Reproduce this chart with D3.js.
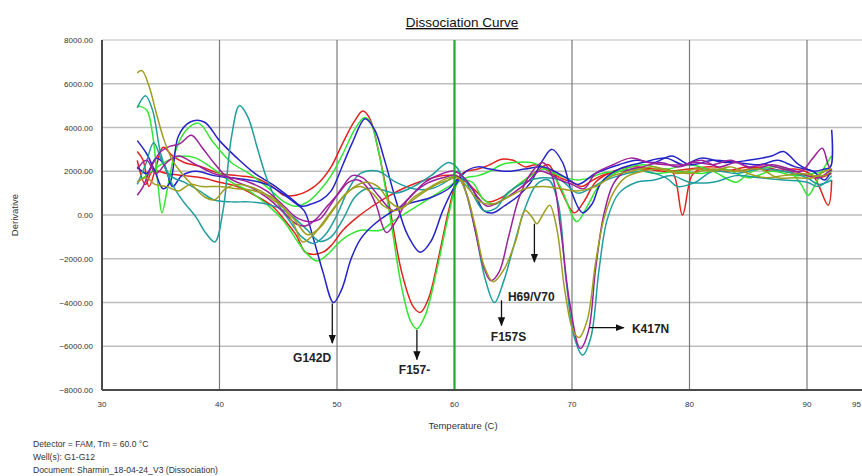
<!DOCTYPE html>
<html>
<head>
<meta charset="utf-8">
<script src="https://cdn.jsdelivr.net/npm/d3@7"></script>
<style>
  html, body { margin: 0; padding: 0; background: #fff; }
  svg { display: block; }
  text { font-family: "Liberation Sans", Arial, sans-serif; }
</style>
</head>
<body>
<svg id="chart" width="862" height="476"></svg>
<script>
// Melt-curve derivative readings, [temperature °C, derivative] for each well
const wellG1 = [[33,2900],[33.5,2500],[34,1300],[34.6,2200],[35.2,3100],[36,2700],[37,2400],[38.5,2200],[40,1900],[41.5,1800],[43,1700],[44.5,1300],[45.5,900],[46.5,900],[47.5,1100],[48.5,1500],[49.5,2200],[50.5,3300],[51.5,4300],[52.2,4750],[52.8,4400],[53.5,3000],[54.5,300],[55.5,-2600],[56.5,-4200],[57.1,-4450],[57.8,-3800],[58.7,-1800],[59.5,200],[60.3,1700],[61,2000],[62,2100],[63,2300],[64,2550],[65,2500],[66,2200],[67,2300],[68,2000],[69,1700],[70,1500],[70.8,1300],[71.5,1500],[72.5,1800],[74,2000],[76,2100],[78,2000],[80,2100],[82,2200],[84,2000],[86,2200],[88,2000],[90,1800],[91,1700],[92.1,1900]];
const wellG2 = [[33,2500],[33.7,1400],[34.3,2000],[35.5,1900],[37,1800],[38.5,1700],[40,1500],[41.5,1300],[43,900],[44.5,400],[45.5,-200],[46.5,-900],[47.3,-1700],[48,-1800],[48.8,-1700],[49.5,-1400],[50.5,-700],[51.5,-200],[53,400],[54.5,900],[56,1300],[57.5,1600],[59,1800],[60,1800],[61,1500],[62,1000],[62.8,600],[64,800],[65.5,1400],[67,2000],[68,2300],[69,1200],[70.2,100],[71,600],[72,1500],[73.5,2000],[75,2200],[77,2100],[78.5,2000],[79.4,0],[80.2,1800],[81,2100],[83,2000],[85,2200],[87,2000],[89,2100],[90.5,1800],[91.8,450],[92.1,1600]];
const wellG3 = [[33,5000],[33.8,4800],[34.3,3700],[34.8,1200],[35.1,100],[35.6,1300],[36.3,3000],[37.2,3900],[38.2,4200],[39.5,3300],[41,2400],[42.5,1900],[44,1300],[45.5,600],[46.5,400],[47.5,600],[48.5,1100],[49.5,1800],[50.5,2800],[51.5,3900],[52.3,4450],[52.8,4300],[53.5,3000],[54.5,0],[55.5,-3300],[56.3,-4900],[56.8,-5200],[57.5,-4600],[58.5,-2500],[59.5,0],[60.3,1500],[61,1700],[62,1800],[63,2000],[64,2300],[65,2400],[66.5,2400],[67.5,2200],[68.5,1900],[69.5,1700],[70.5,1600],[71.5,1700],[72.5,1900],[74,2000],[75.5,2100],[77,1900],[79,2000],[81,1900],[83,2100],[85,1700],[87,2000],[89,1800],[90.5,1900],[91.5,2000],[92.1,2300]];
const wellG4 = [[33,1500],[34,1900],[35,2300],[36,2600],[37,2700],[38,2600],[39.5,2100],[41,1500],[42.5,1100],[44,500],[45.5,-300],[46.5,-1100],[47.5,-1800],[48.3,-2100],[49.2,-1800],[50.5,-1100],[52,-700],[53.7,-700],[55,-200],[56.5,300],[58,800],[59.5,1300],[60.5,1600],[61.5,1500],[62.5,700],[63.5,500],[65,1200],[66.5,1800],[67.8,2100],[69,1300],[70.4,-300],[71.2,300],[72.5,1500],[74,2000],[76,2300],[78,2100],[80,2300],[82,2000],[84,1500],[85,1900],[87,2200],[88.5,2000],[89.5,1400],[90.1,900],[90.8,1500],[91.5,2200],[92.1,2700]];
const wellG5 = [[33,2200],[33.8,1900],[34.6,2600],[35.3,2300],[36,1300],[36.8,1800],[38,2000],[39.5,1800],[41,1700],[42.5,1600],[44,1400],[45.3,1000],[46.3,600],[47.2,200],[48,-1100],[48.8,-2600],[49.7,-4000],[50.4,-3400],[51.2,-2000],[52,-1100],[53,-500],[54.5,100],[56,500],[58,800],[59.5,1200],[60.5,1700],[61.5,1200],[62.5,200],[63.3,100],[64.2,400],[65.5,900],[66.5,1500],[67.5,2500],[68.3,3000],[69.2,2400],[70,1000],[70.9,100],[71.7,500],[72.5,1500],[74,2100],[76,2400],[78,2600],[79.5,2300],[81,2600],[83,2400],[85,2500],[87,2700],[88,2900],[89.3,2300],[90.5,2000],[91.5,2100],[92,2200],[92.1,3900]];
const wellG6 = [[33,3400],[33.8,2800],[34.5,2000],[35.2,1200],[35.8,1500],[36.5,3600],[37.5,4250],[38.7,4250],[40,3400],[41.5,2600],[43,1900],[44.5,1400],[46,800],[47,400],[47.8,500],[48.7,700],[49.5,1100],[50.5,2300],[51.3,3300],[52.4,4400],[53.2,3900],[54,2600],[55,700],[56,-900],[57.1,-1700],[58,-1200],[59,200],[60,1300],[61,2000],[62,2200],[63,2100],[64.5,2000],[66,2100],[67.5,2200],[68.5,2000],[69.5,1700],[70.5,1400],[72,1900],[74,2300],[75.5,2500],[77,2400],[78.5,2700],[80,2300],[82,2500],[84,2400],[86,2300],[87.5,2500],[89,2200],[90.5,2000],[91.5,1600],[92.1,2100]];
const wellG7 = [[33,1400],[33.7,2300],[34.4,3300],[35,2600],[35.8,1800],[37,1500],[38.3,1100],[39.5,700],[41,600],[42.5,600],[44,500],[45.5,200],[46.5,-200],[47.5,-700],[48.5,-1200],[49.5,-1000],[50.5,-200],[51.5,800],[52.5,1200],[53.5,1200],[55,1000],[56.5,1300],[58,1800],[59.5,2400],[60.3,2100],[61,1000],[61.8,-800],[62.6,-2900],[63.4,-4000],[64.2,-3000],[65,-1500],[66,300],[67,1400],[68,1600],[68.8,600],[69.5,-3000],[70.2,-5600],[70.9,-6400],[71.6,-5600],[72.3,-2500],[73,-200],[74,1000],[75.5,1500],[77,1600],[78.5,1800],[80,1500],[82,1500],[84,1800],[86,1700],[88,1600],[90,1500],[91,1300],[92.1,1800]];
const wellG8 = [[33,4900],[33.7,5450],[34.3,4800],[35,2800],[35.8,1600],[36.8,700],[38,-100],[38.8,-800],[39.6,-1230],[40.3,200],[41,3500],[41.7,5000],[42.4,4500],[43.2,3100],[44,1700],[45,500],[46,-300],[47,-1000],[48,-1300],[49,-900],[50,0],[51,1200],[52,1900],[53.5,2000],[55,1500],[56.5,1200],[58,1200],[59.5,1600],[60.3,2000],[61.5,1000],[62.5,200],[63.5,300],[64.5,1000],[66,1500],[67.5,1700],[69,1600],[70.5,1000],[71.5,1200],[72.5,1500],[74,1800],[76,2000],[78,1700],[79,1300],[80.5,1500],[82,2000],[84,1900],[86,2100],[88,2000],[90,1700],[91,1400],[92.1,1600]];
const wellG9 = [[33,900],[33.5,1300],[34.2,2200],[35,2900],[35.8,3150],[36.6,3250],[37.6,3650],[38.5,3100],[39.5,2400],[40.5,1800],[41.5,1500],[42.5,1300],[43.5,1000],[44.5,600],[45.5,100],[46.5,-400],[47.3,-500],[48.2,-200],[49,300],[50,900],[51,1500],[51.8,1600],[52.5,1300],[53.3,500],[54.2,-800],[55,-300],[56,700],[57.5,1400],[59,1700],[60.2,1800],[61,1000],[61.8,-800],[62.5,-2400],[63.1,-3000],[63.8,-2600],[64.6,-1000],[65.5,800],[66.5,1900],[67.5,2400],[68.3,1800],[69,-500],[69.8,-4000],[70.7,-6100],[71.4,-5300],[72,-2500],[72.7,0],[73.5,1400],[74.5,2000],[76,2200],[77.5,2400],[79,2200],[80.5,2400],[82,2300],[83.5,2500],[85,2200],[86.5,2300],[88,2100],[89.5,2000],[90.5,2600],[91.3,3050],[91.8,2300],[92.1,2000]];
const wellG10 = [[33,2100],[33.8,2500],[34.6,1900],[35.5,2400],[36.5,2700],[38,2300],[39.5,1900],[41,1700],[42.5,1500],[44,1100],[45.5,400],[46.5,-100],[47.5,-300],[48.5,-200],[49.5,500],[50.5,1300],[51.3,1800],[52.2,1700],[53.5,900],[54.8,200],[56,700],[57.5,1500],[59,1900],[60,2000],[61,1600],[62,800],[62.8,400],[63.8,600],[65,1000],[66.2,1500],[67.2,2000],[68,1900],[69,1600],[70,1400],[71,1200],[72,1900],[73.5,2300],[75,2600],[76.5,2400],[78,2300],[79.5,2300],[81,2500],[82.5,2200],[84,2400],[85.5,2100],[87,2300],[88.5,2100],[90,1800],[91,1700],[92.1,2100]];
const wellG11 = [[33,6500],[33.4,6600],[34,5900],[34.6,4700],[35.3,3400],[36,2500],[36.8,1900],[37.8,1300],[38.8,800],[39.6,700],[40.5,1200],[41.5,1400],[42.5,1300],[43.5,1100],[44.5,700],[45.5,300],[46.3,-400],[47.1,-1230],[48,-900],[49,-200],[50,500],[51,1100],[52,1300],[53,1000],[54,400],[55,200],[56,500],[57,900],[58.5,1400],[59.5,1600],[60.3,1700],[61,1000],[61.8,-600],[62.5,-2300],[63.3,-3050],[64.2,-2500],[65.2,-1200],[66,200],[66.6,-100],[67,-400],[67.5,0],[68.1,450],[68.7,-600],[69.4,-3500],[70.1,-5300],[70.6,-5600],[71.3,-4800],[72,-2200],[72.7,-200],[73.5,1000],[74.5,1700],[76,2000],[77.5,2100],[79,1900],[80.5,2100],[82,2000],[83.5,2200],[85,1900],[86.5,1700],[88,1800],[89.5,1900],[90.5,1800],[91.5,1800],[92.1,2000]];
const wellG12 = [[33,1500],[33.8,1700],[34.5,1400],[35.5,1300],[36.5,1100],[37.5,1400],[38.5,1300],[40,1300],[41.5,1200],[43,1100],[44.5,800],[45.5,300],[46.5,-300],[47.5,-900],[48.5,-600],[49.5,100],[50.5,800],[51.5,1300],[52.5,1500],[53.5,1300],[54.5,600],[55.5,300],[56.5,800],[58,1300],[59.5,1700],[60.3,1700],[61.2,1200],[62.2,600],[63.2,500],[64.5,800],[66,1200],[67.5,1300],[69,1200],[70.5,1100],[72,1300],[73.5,1800],[75,2000],[77,2200],[78.5,2000],[80,1900],[82,2100],[84,2000],[86,2100],[87.5,1700],[89,1700],[90.5,1700],[91.5,2000],[92.1,2100]];

const wellNames  = ["G1","G2","G3","G4","G5","G6","G7","G8","G9","G10","G11","G12"];
const wellData   = [wellG1, wellG2, wellG3, wellG4, wellG5, wellG6, wellG7, wellG8, wellG9, wellG10, wellG11, wellG12];
const wellColors = ["#e3211d","#e3211d","#33e633","#33e633","#2323c8","#2323c8","#1f9e9e","#1f9e9e","#9c1f9c","#9c1f9c","#9e9e1f","#9e9e1f"];

const xTicks = [30, 40, 50, 60, 70, 80, 90, 95];
const yTicks = [-8000, -6000, -4000, -2000, 0, 2000, 4000, 6000, 8000];
const tmValue = 60.0;

// Mutation call-outs: label, arrow start/end in data units, label anchor
const calloutLabels = ["G142D", "F157-", "F157S", "H69/V70", "K417N"];
const calloutArrows = [
  [[49.6, -4050], [49.6, -5850]],
  [[56.8, -5250], [56.8, -6600]],
  [[64.0, -3900], [64.0, -5050]],
  [[66.8, -400],  [66.8, -2150]],
  [[71.5, -5150], [74.4, -5150]]
];
const calloutAnchors = [[49.5, -6700], [56.6, -7250], [64.6, -5750], [64.55, -3950], [75.1, -5400]];
const calloutAlign   = ["end", "middle", "middle", "start", "start"];

const svg = d3.select("#chart");
const xMax = 862;

const x = d3.scaleLinear().domain([30, 95]).range([102, 102 + 65 * 11.75]);
const y = d3.scaleLinear().domain([-8000, 8000]).range([390, 40]);

// Title
svg.append("text")
  .attr("x", 462).attr("y", 27)
  .attr("text-anchor", "middle")
  .attr("font-size", 13.5)
  .attr("fill", "#111")
  .attr("text-decoration", "underline")
  .text("Dissociation Curve");

// Horizontal grid
svg.append("g").selectAll("line")
  .data(yTicks.filter(d => d > -8000))
  .join("line")
  .attr("x1", x(30)).attr("x2", xMax)
  .attr("y1", d => y(d)).attr("y2", d => y(d))
  .attr("stroke", d => d === 8000 ? "#d4d4d4" : "#bdbdbd")
  .attr("stroke-width", 1.3);

// Vertical grid
svg.append("g").selectAll("line")
  .data(xTicks.filter(d => d > 30 && d < 95 && d !== tmValue))
  .join("line")
  .attr("x1", d => x(d)).attr("x2", d => x(d))
  .attr("y1", y(8000)).attr("y2", y(-8000))
  .attr("stroke", "#7a7a7a")
  .attr("stroke-width", 1.2);

// Curves
const line = d3.line()
  .x(d => x(d[0]))
  .y(d => y(d[1]))
  .curve(d3.curveCatmullRom.alpha(0.5));

svg.append("g").selectAll("path")
  .data(wellData)
  .join("path")
  .attr("d", d => line(d))
  .attr("fill", "none")
  .attr("stroke", (d, i) => wellColors[i])
  .attr("stroke-width", 1.5)
  .attr("stroke-linejoin", "round");

// Tm marker
svg.append("line")
  .attr("x1", x(tmValue)).attr("x2", x(tmValue))
  .attr("y1", y(8000)).attr("y2", y(-8000))
  .attr("stroke", "#1faa2a")
  .attr("stroke-width", 2.2);

// Axes frame
svg.append("line")
  .attr("x1", x(30)).attr("x2", x(30))
  .attr("y1", y(8000)).attr("y2", y(-8000))
  .attr("stroke", "#4a4a4a").attr("stroke-width", 2);
svg.append("line")
  .attr("x1", x(30)).attr("x2", xMax)
  .attr("y1", y(-8000)).attr("y2", y(-8000))
  .attr("stroke", "#4a4a4a").attr("stroke-width", 2.2);

// Y tick labels
svg.append("g").selectAll("text")
  .data(yTicks)
  .join("text")
  .attr("x", 93).attr("y", d => y(d) + 3)
  .attr("text-anchor", "end")
  .attr("font-size", 8)
  .attr("fill", "#333")
  .text(d => d3.format(".2f")(d));

// X tick labels (last one sits at the right edge of the plot)
svg.append("g").selectAll("text")
  .data(xTicks)
  .join("text")
  .attr("x", d => d === 95 ? xMax - 1 : x(d)).attr("y", 407)
  .attr("text-anchor", d => d === 95 ? "end" : "middle")
  .attr("font-size", 8)
  .attr("fill", "#333")
  .text(d => d);

// Axis titles
svg.append("text")
  .attr("transform", "translate(18,215) rotate(-90)")
  .attr("text-anchor", "middle")
  .attr("font-size", 9.5)
  .attr("fill", "#333")
  .text("Derivative");
svg.append("text")
  .attr("x", 463).attr("y", 429)
  .attr("text-anchor", "middle")
  .attr("font-size", 9.5)
  .attr("fill", "#333")
  .text("Temperature (C)");

// Run information
const infoLines = ["Detector = FAM, Tm = 60.0 °C", "Well(s): G1-G12", "Document: Sharmin_18-04-24_V3 (Dissociation)"];
svg.append("g").selectAll("text")
  .data(infoLines)
  .join("text")
  .attr("x", 33).attr("y", (d, i) => 446.5 + i * 13.3)
  .attr("font-size", 8.6)
  .attr("fill", "#333")
  .text(d => d);

// Call-outs
const defs = svg.append("defs");
defs.append("marker")
  .attr("id", "arrowhead")
  .attr("viewBox", "0 0 10 10")
  .attr("refX", 9).attr("refY", 5)
  .attr("markerWidth", 7).attr("markerHeight", 7)
  .attr("orient", "auto")
  .append("path")
  .attr("d", "M0,1 L10,5 L0,9 Z")
  .attr("fill", "#111");

svg.append("g").selectAll("line")
  .data(calloutArrows)
  .join("line")
  .attr("x1", d => x(d[0][0])).attr("y1", d => y(d[0][1]))
  .attr("x2", d => x(d[1][0])).attr("y2", d => y(d[1][1]))
  .attr("stroke", "#111")
  .attr("stroke-width", 1.3)
  .attr("marker-end", "url(#arrowhead)");

svg.append("g").selectAll("text")
  .data(calloutLabels)
  .join("text")
  .attr("x", (d, i) => x(calloutAnchors[i][0]))
  .attr("y", (d, i) => y(calloutAnchors[i][1]))
  .attr("text-anchor", (d, i) => calloutAlign[i])
  .attr("font-family", "'Open Sans', 'Liberation Sans', sans-serif")
  .attr("font-weight", "bold")
  .attr("font-size", 12)
  .attr("fill", "#222")
  .text(d => d);
</script>
</body>
</html>
